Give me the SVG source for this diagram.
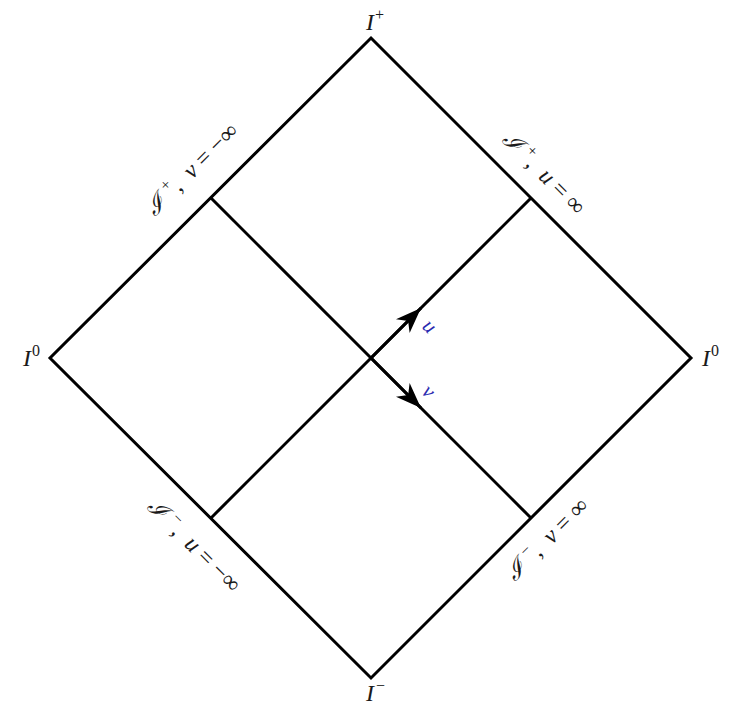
<svg xmlns="http://www.w3.org/2000/svg" width="732" height="707" viewBox="0 0 732 707">
<style>
.ln{fill:none;stroke:#000;stroke-width:3;stroke-linejoin:miter}
.t{font-family:"Liberation Serif","DejaVu Serif",serif;font-size:24px;fill:#1a1a1a}
.i{font-style:italic}
.s{font-size:16px;font-style:normal}
.c{font-family:"DejaVu Serif",serif;font-style:italic}
.b{font-family:"Liberation Serif","DejaVu Serif",serif;font-style:italic;font-size:21px;fill:#2b2bb0}
</style>
<defs>
<marker id="ah" markerUnits="userSpaceOnUse" markerWidth="30" markerHeight="30" viewBox="-26 -11 28 22" refX="0" refY="0" orient="auto">
<path d="M0,0 L-24,-9 L-17,0 L-24,9 Z" fill="#000"/>
</marker>
</defs>
<g id="diagram">
<path class="ln" d="M371,38 L691,358 L371,678 L50,358 Z"/>
</g>
<g id="connectors">
<path class="ln" d="M211,198 L531,518"/>
<path class="ln" d="M211,518 L531,198"/>
<path class="ln" d="M371,358 L421,308" marker-end="url(#ah)"/>
<path class="ln" d="M371,358 L421,408" marker-end="url(#ah)"/>
</g>
<g id="corners">
<text class="t i" x="366" y="30">I<tspan class="s" dx="1" dy="-10">+</tspan></text>
<text class="t i" x="23" y="366">I<tspan class="s" dx="1" dy="-10">0</tspan></text>
<text class="t i" x="702" y="366">I<tspan class="s" dx="1" dy="-10">0</tspan></text>
<text class="t i" x="366" y="701">I<tspan class="s" dx="2" dy="-10">−</tspan></text>
</g>
<g id="edge-labels">
<text class="t" text-anchor="middle" transform="translate(197.5,174.5) rotate(-45)"><tspan class="c">ℐ</tspan><tspan class="s" dx="7" dy="-10">+</tspan><tspan dy="10">,</tspan><tspan class="i" dx="12">v</tspan><tspan dx="6">=</tspan><tspan dx="6">−∞</tspan></text>
<text class="t" text-anchor="middle" transform="translate(538.5,178.5) rotate(45)"><tspan class="c">ℐ</tspan><tspan class="s" dx="7" dy="-10">+</tspan><tspan dy="10">,</tspan><tspan class="i" dx="12">u</tspan><tspan dx="6">=</tspan><tspan dx="6">∞</tspan></text>
<text class="t" text-anchor="middle" transform="translate(189,551) rotate(45)"><tspan class="c">ℐ</tspan><tspan class="s" dx="7" dy="-10">−</tspan><tspan dy="10">,</tspan><tspan class="i" dx="12">u</tspan><tspan dx="6">=</tspan><tspan dx="6">−∞</tspan></text>
<text class="t" text-anchor="middle" transform="translate(552.5,544.5) rotate(-45)"><tspan class="c">ℐ</tspan><tspan class="s" dx="7" dy="-10">−</tspan><tspan dy="10">,</tspan><tspan class="i" dx="12">v</tspan><tspan dx="6">=</tspan><tspan dx="6">∞</tspan></text>
</g>
<g id="arrow-labels">
<text class="b" text-anchor="middle" transform="translate(425,331) rotate(45)">u</text>
<text class="b" text-anchor="middle" transform="translate(424,396) rotate(45)">v</text>
</g>
</svg>
